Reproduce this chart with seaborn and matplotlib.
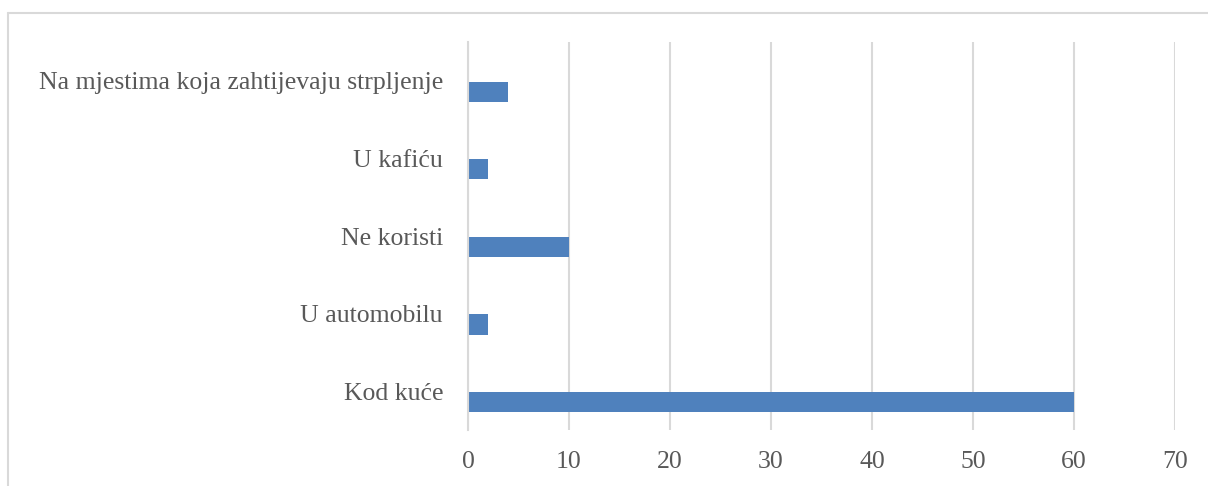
import matplotlib
matplotlib.use("Agg")
import matplotlib.pyplot as plt
import seaborn as sns
import pandas as pd
from matplotlib.lines import Line2D

# data, top to bottom
categories = [
    "Na mjestima koja zahtijevaju strpljenje",
    "U kafiću",
    "Ne koristi",
    "U automobilu",
    "Kod kuće",
]
counts = [4, 2, 10, 2, 60]
x_ticks = [0, 10, 20, 30, 40, 50, 60, 70]

df = pd.DataFrame({"category": categories, "count": counts})

sns.set_theme(style="white")
plt.rcParams["font.family"] = ["Liberation Serif", "DejaVu Serif"]

text_col = "#595959"
grid_col = "#D9D9D9"
bar_col = "#4F81BD"

W, H = 1208, 486
fig = plt.figure(figsize=(W / 100, H / 100), dpi=100)
ax = fig.add_axes([468 / W, 1 - 430 / H, (1175 - 468) / W, (430 - 42) / H])

sns.barplot(data=df, y="category", x="count", order=categories,
            color=bar_col, width=0.26, saturation=1, linewidth=0, ax=ax)

# Excel-style: bars sit a bit below the centre of each category band
offset = 0.14
n = len(categories)
ax.set_ylim(n - 0.5 - offset, -0.5 - offset)
ax.set_yticks([i - offset for i in range(n)], categories)

ax.set_xlim(0, 70)
ax.set_xticks(x_ticks)
ax.set_xlabel("")
ax.set_ylabel("")

ax.xaxis.grid(True, color=grid_col, linewidth=1.5)
ax.set_axisbelow(True)
for side in ["top", "right", "bottom"]:
    ax.spines[side].set_visible(False)
ax.spines["left"].set_color(grid_col)
ax.spines["left"].set_linewidth(1.5)

ax.tick_params(axis="x", length=0, pad=15, labelsize=18.5, labelcolor=text_col)
ax.tick_params(axis="y", length=0, pad=18, labelsize=18.5, labelcolor=text_col)

# outer chart frame
fig.add_artist(Line2D([8 / W, 1.0], [1 - 13 / H, 1 - 13 / H],
                      transform=fig.transFigure, color=grid_col, linewidth=1.5))
fig.add_artist(Line2D([8 / W, 8 / W], [0, 1 - 13 / H],
                      transform=fig.transFigure, color=grid_col, linewidth=1.5))

fig.savefig("out.png", dpi=100, facecolor="white")
plt.close(fig)
